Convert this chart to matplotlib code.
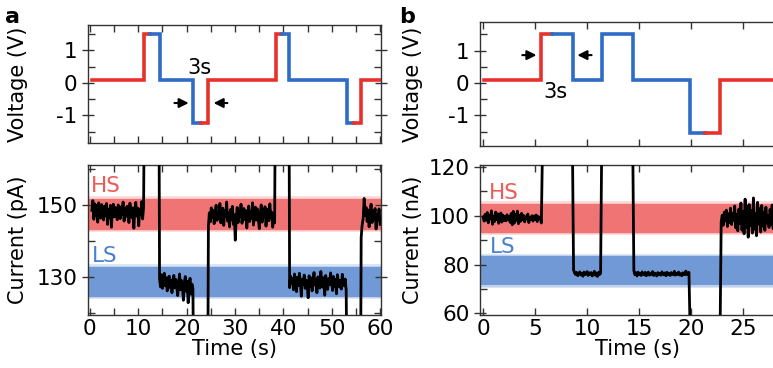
import numpy as np
import matplotlib
matplotlib.use('Agg')
import matplotlib.pyplot as plt
from matplotlib.ticker import MultipleLocator, FixedLocator

# colours
RED = '#e8312c'
BLUE = '#2e6cc6'
HS_BAND = '#f07474'
LS_BAND = '#7199d6'

# ---- panel a: voltage steps (time in s, voltage in V) ----
va_time = [0.4, 11.1, 11.1, 14.4, 14.4, 21.3, 21.3, 24.4, 24.4, 38.4, 38.4, 41.2, 41.2, 53.2, 53.2, 56.0, 56.0, 60.0]
va_volt = [0.1, 0.1, 1.5, 1.5, 0.1, 0.1, -1.23, -1.23, 0.1, 0.1, 1.5, 1.5, 0.1, 0.1, -1.23, -1.23, 0.1, 0.1]
va_switch = [12.4, 23.0, 39.7, 54.7]   # colour change red <-> blue

# ---- panel b: voltage steps ----
vb_time = [0.1, 5.6, 5.6, 8.6, 8.6, 11.4, 11.4, 14.4, 14.4, 19.9, 19.9, 22.8, 22.8, 30.0]
vb_volt = [0.1, 0.1, 1.5, 1.5, 0.1, 0.1, 1.5, 1.5, 0.1, 0.1, -1.54, -1.54, 0.1, 0.1]
vb_switch = [6.6, 21.3]

# ---- panel a: current (pA), plateaus ----
ia_1 = [148.5, 151.2, 146.0, 150.3, 147.1, 149.8, 145.2, 150.6, 147.9, 146.3, 150.1, 148.2, 145.8, 149.7,
        147.0, 150.4, 144.6, 148.8, 146.5, 149.9, 143.8, 148.1, 150.2, 146.7, 149.3, 147.4, 145.9, 150.0,
        148.6, 146.2, 149.5, 147.3, 150.8, 145.5, 148.9, 146.8, 149.6, 147.7, 145.1, 150.5, 148.0, 146.4,
        149.2, 143.5, 148.4, 150.7, 146.9, 149.1, 144.2, 148.7, 147.5, 150.9, 146.1, 149.4]
ia_2 = [129.5, 127.2, 130.6, 126.8, 128.9, 131.0, 127.5, 129.8, 126.1, 128.4, 130.2, 127.0, 129.1, 125.6,
        128.7, 130.4, 126.9, 129.3, 127.8, 124.8, 128.2, 130.8, 126.4, 129.0, 127.3, 123.5, 128.5, 130.1,
        126.0, 128.8, 122.8, 127.6, 129.6, 125.2, 128.0, 126.7]
ia_3 = [144.0, 147.8, 145.3, 149.2, 146.6, 148.5, 144.8, 147.1, 149.9, 145.7, 148.0, 146.2, 150.4, 145.0,
        147.6, 149.1, 144.3, 148.3, 146.9, 150.8, 145.5, 147.9, 143.9, 148.7, 146.0, 149.6, 144.6, 147.3,
        140.2, 146.4, 149.3, 145.1, 148.1, 146.8, 150.2, 144.9, 147.5, 149.0, 145.9, 148.4, 143.6, 147.0,
        149.7, 145.4, 148.2, 146.3, 150.6, 144.4, 147.7, 149.4, 145.8, 148.9, 146.1, 143.4, 147.4, 150.0,
        145.2, 148.6, 146.7, 149.5, 144.1, 147.2, 148.8, 145.6, 150.3, 146.5, 148.0, 143.8, 147.6, 145.0]
ia_4 = [127.0, 130.2, 128.1, 129.6, 126.4, 130.8, 128.7, 125.9, 129.9, 127.6, 131.0, 128.3, 124.6, 129.4,
        127.9, 130.5, 126.8, 129.1, 128.0, 124.2, 130.3, 127.3, 129.7, 126.1, 128.9, 131.2, 127.7, 129.2,
        125.6, 130.0, 128.4, 126.9, 131.5, 128.6, 127.1, 129.8, 124.9, 130.4, 128.2, 126.5, 129.5, 127.8,
        131.1, 128.8, 126.2, 130.1, 127.4, 129.3, 125.3, 130.6, 128.5, 127.2, 129.0, 126.6, 130.7, 128.1,
        127.5, 129.4, 126.3]
ia_5 = [141.0, 144.5, 146.2, 151.8, 147.0, 149.3, 145.4, 148.6, 143.9, 147.7, 150.2, 145.1, 148.3, 146.0,
        149.0, 143.3, 147.4, 145.8, 148.9, 144.6]
ia_segments = [(0.4, 11.1, ia_1), (14.4, 21.3, ia_2), (24.5, 38.2, ia_3), (41.3, 53.0, ia_4), (56.1, 60.0, ia_5)]
# off-scale excursions between plateaus (start, end, level)
ia_jumps = [(11.2, 14.3, 170), (21.4, 24.4, 110), (38.3, 41.2, 170), (53.1, 56.0, 110)]

# ---- panel b: current (nA) ----
ib_1 = [99.5, 97.8, 100.6, 98.2, 101.3, 97.1, 100.0, 98.7, 102.0, 96.5, 99.9, 97.6, 101.5, 98.4, 100.8,
        96.9, 99.2, 101.1, 97.4, 100.3, 98.0, 99.7, 97.9, 100.4, 98.6, 99.8, 97.3, 100.9, 96.3, 101.8,
        97.0, 100.5, 98.1, 101.9, 96.7, 100.2, 97.7, 101.0, 98.3, 100.1, 97.5, 99.6, 98.8, 100.7, 97.2,
        99.4, 98.5, 100.0, 97.8, 99.9, 98.4, 100.3, 97.6, 99.7, 98.9, 99.2, 97.0]
ib_2 = [77.8, 76.5, 75.9, 76.8, 75.4, 76.2, 77.0, 75.7, 76.4, 75.2, 76.9, 75.8, 76.3, 77.1, 75.5, 76.6,
        75.9, 76.7, 75.3, 76.1, 77.2, 75.6, 76.5, 75.1, 76.8, 75.9, 76.4]
ib_3 = [77.5, 75.8, 76.6, 75.3, 76.9, 75.9, 76.4, 75.5, 77.0, 76.1, 75.7, 76.8, 75.4, 76.3, 76.9, 75.6,
        76.2, 75.9, 77.1, 75.5, 76.5, 76.0, 75.3, 76.7, 75.8, 76.4, 75.6, 77.0, 76.2, 75.7, 76.6, 75.4,
        76.8, 75.9, 76.3, 75.5, 76.7, 76.1, 75.8, 77.2, 75.6, 76.4, 75.9, 76.9, 75.7, 76.2, 75.4, 76.6,
        76.0, 75.8, 77.3, 75.9, 76.5, 76.8]
ib_4 = [97.5, 100.2, 96.1, 101.5, 97.9, 102.3, 95.6, 100.8, 97.2, 103.1, 96.4, 101.0, 98.1, 104.0, 95.0,
        100.5, 93.8, 102.7, 96.9, 105.2, 94.1, 101.8, 92.6, 106.8, 95.3, 103.9, 91.2, 104.6, 96.0, 102.1,
        92.9, 107.3, 94.5, 100.9, 91.8, 105.5, 96.6, 102.9, 93.3, 104.2, 95.8, 101.4, 94.0, 103.5, 97.0,
        100.1, 95.2, 102.6, 96.3, 104.4, 94.7, 101.7, 97.4, 103.0, 95.5, 100.6, 96.8, 102.2, 94.3, 101.2,
        97.7, 103.3, 95.9, 100.4, 96.2, 102.5, 94.9, 101.9, 97.1, 100.0, 96.5, 102.0]
ib_segments = [(0.0, 5.6, ib_1), (8.7, 11.3, ib_2), (14.5, 19.8, ib_3), (22.9, 30.0, ib_4)]
ib_jumps = [(5.7, 8.6, 125), (11.4, 14.4, 125), (19.9, 22.8, 55)]

# bands (low, high)
a_hs, a_ls = (143.1, 151.7), (124.4, 132.8)
b_hs, b_ls = (93.1, 104.9), (71.4, 83.3)

# tick positions
a_time_ticks = [0, 10, 20, 30, 40, 50, 60]
b_time_ticks = [0, 5, 10, 15, 20, 25]
a_cur_ticks = [130, 150]
a_cur_minor = [120, 140, 160]
b_cur_ticks = [60, 80, 100, 120]
b_cur_minor = [70, 90, 110]

plt.rcParams['font.family'] = 'DejaVu Sans'
plt.rcParams['font.size'] = 15
plt.rcParams['axes.unicode_minus'] = False


def build_trace(segments, jumps):
    t, y = [], []
    for i, (t0, t1, vals) in enumerate(segments):
        t.extend(np.linspace(t0, t1, len(vals)))
        y.extend(vals)
        if i < len(jumps):
            j0, j1, lev = jumps[i]
            t.extend([j0, j1])
            y.extend([lev, lev])
    return np.array(t), np.array(y)


def plot_voltage(ax, times, volts, switches):
    times = np.array(times, float)
    volts = np.array(volts, float)
    cuts = [times[0]] + list(switches) + [times[-1]]
    colors = [RED, BLUE]
    for k in range(len(cuts) - 1):
        lo, hi = cuts[k], cuts[k + 1]
        px, py = [], []
        for i in range(len(times) - 1):
            x0, x1, y0, y1 = times[i], times[i + 1], volts[i], volts[i + 1]
            if x1 < lo or x0 > hi:
                continue
            if x0 == x1:
                px += [x0, x1]; py += [y0, y1]
            else:
                a, b = max(x0, lo), min(x1, hi)
                px += [a, b]; py += [y0, y0]
        ax.plot(px, py, color=colors[k % 2], lw=2.6, solid_joinstyle='miter', zorder=3)


def band(ax, lo, hi, color):
    ax.axhspan(lo, hi, color=color, lw=0, zorder=0)
    pad = (hi - lo) * 0.04
    for f in (1, 2):
        ax.axhspan(lo - pad * f, hi + pad * f, color=color, alpha=0.25, lw=0, zorder=0)


def style(ax):
    for s in ax.spines.values():
        s.set_color('#333333')
        s.set_linewidth(1.0)
    ax.tick_params(which='both', top=True, right=True, color='#333333', width=1.0)
    ax.tick_params(axis='x', which='both', direction='in', length=5)
    ax.tick_params(axis='y', which='major', direction='inout', length=9)
    ax.tick_params(axis='y', which='minor', direction='in', length=5)
    ax.tick_params(axis='both', which='major', pad=3, labelsize=15.5)


fig = plt.figure(figsize=(7.73, 3.68), dpi=100)

ax_va = fig.add_axes([88 / 773, 1 - 143 / 368, 293 / 773, 118 / 368])
ax_ia = fig.add_axes([88 / 773, 1 - 315 / 368, 293 / 773, 150 / 368])
ax_vb = fig.add_axes([480 / 773, 1 - 146 / 368, 315 / 773, 124 / 368])
ax_ib = fig.add_axes([480 / 773, 1 - 315 / 368, 315 / 773, 150 / 368])

# voltage a
plot_voltage(ax_va, va_time, va_volt, va_switch)
ax_va.set_xlim(-0.4, 60.2)
ax_va.set_ylim(-1.85, 1.78)
ax_va.xaxis.set_major_locator(MultipleLocator(5))
ax_va.yaxis.set_major_locator(MultipleLocator(1))
ax_va.yaxis.set_minor_locator(MultipleLocator(0.5))
ax_va.set_xticklabels([])
ax_va.set_ylabel('Voltage (V)')
ax_va.annotate('', xy=(21.0, -0.62), xytext=(16.9, -0.62),
               arrowprops=dict(arrowstyle='-|>', color='k', lw=1.5, mutation_scale=14))
ax_va.annotate('', xy=(25.0, -0.62), xytext=(29.0, -0.62),
               arrowprops=dict(arrowstyle='-|>', color='k', lw=1.5, mutation_scale=14))
ax_va.text(22.6, 0.46, '3s', ha='center', va='center', fontsize=15)

# current a
band(ax_ia, *a_hs, HS_BAND)
band(ax_ia, *a_ls, LS_BAND)
t, y = build_trace(ia_segments, ia_jumps)
ax_ia.plot(t, y, color='black', lw=2.0, zorder=3)
ax_ia.set_xlim(-0.4, 60.2)
ax_ia.set_ylim(119.4, 161.1)
ax_ia.xaxis.set_major_locator(FixedLocator(a_time_ticks))
ax_ia.xaxis.set_minor_locator(MultipleLocator(5))
ax_ia.yaxis.set_major_locator(FixedLocator(a_cur_ticks))
ax_ia.yaxis.set_minor_locator(FixedLocator(a_cur_minor))
ax_ia.set_xlabel('Time (s)', labelpad=0)
ax_ia.set_ylabel('Current (pA)')
ax_ia.text(3.3, 155.3, 'HS', color='#ee5a57', ha='center', va='center', fontsize=15.5)
ax_ia.text(3.1, 135.8, 'LS', color='#4a80d0', ha='center', va='center', fontsize=15.5)

# voltage b
plot_voltage(ax_vb, vb_time, vb_volt, vb_switch)
ax_vb.set_xlim(-0.3, 30)
ax_vb.set_ylim(-1.94, 1.88)
ax_vb.xaxis.set_major_locator(FixedLocator(b_time_ticks))
ax_vb.yaxis.set_major_locator(MultipleLocator(1))
ax_vb.yaxis.set_minor_locator(MultipleLocator(0.5))
ax_vb.set_xticklabels([])
ax_vb.set_ylabel('Voltage (V)')
ax_vb.annotate('', xy=(5.4, 0.86), xytext=(3.5, 0.86),
               arrowprops=dict(arrowstyle='-|>', color='k', lw=1.5, mutation_scale=14))
ax_vb.annotate('', xy=(8.8, 0.86), xytext=(10.7, 0.86),
               arrowprops=dict(arrowstyle='-|>', color='k', lw=1.5, mutation_scale=14))
ax_vb.text(7.0, -0.28, '3s', ha='center', va='center', fontsize=15)

# current b
band(ax_ib, *b_hs, HS_BAND)
band(ax_ib, *b_ls, LS_BAND)
t, y = build_trace(ib_segments, ib_jumps)
ax_ib.plot(t, y, color='black', lw=2.0, zorder=3)
ax_ib.set_xlim(-0.3, 30)
ax_ib.set_ylim(59.3, 120.8)
ax_ib.xaxis.set_major_locator(FixedLocator(b_time_ticks))
ax_ib.yaxis.set_major_locator(FixedLocator(b_cur_ticks))
ax_ib.yaxis.set_minor_locator(FixedLocator(b_cur_minor))
ax_ib.set_xlabel('Time (s)', labelpad=0)
ax_ib.set_ylabel('Current (nA)')
ax_ib.text(2.0, 109.4, 'HS', color='#ee5a57', ha='center', va='center', fontsize=15.5)
ax_ib.text(1.9, 87.3, 'LS', color='#4a80d0', ha='center', va='center', fontsize=15.5)

for ax in (ax_va, ax_ia, ax_vb, ax_ib):
    style(ax)

# align y labels: centre ~28 px (a) and ~423 px (b) from figure left
ax_va.yaxis.set_label_coords((28 - 88) / 293, 0.5)
ax_ia.yaxis.set_label_coords((28 - 88) / 293, 0.5)
ax_vb.yaxis.set_label_coords((423 - 480) / 315, 0.5)
ax_ib.yaxis.set_label_coords((423 - 480) / 315, 0.5)

fig.text(12 / 773, 1 - 17 / 368, 'a', fontsize=16, fontweight='bold', ha='center', va='center')
fig.text(407 / 773, 1 - 17 / 368, 'b', fontsize=16, fontweight='bold', ha='center', va='center')

fig.savefig('out.png', dpi=100)
